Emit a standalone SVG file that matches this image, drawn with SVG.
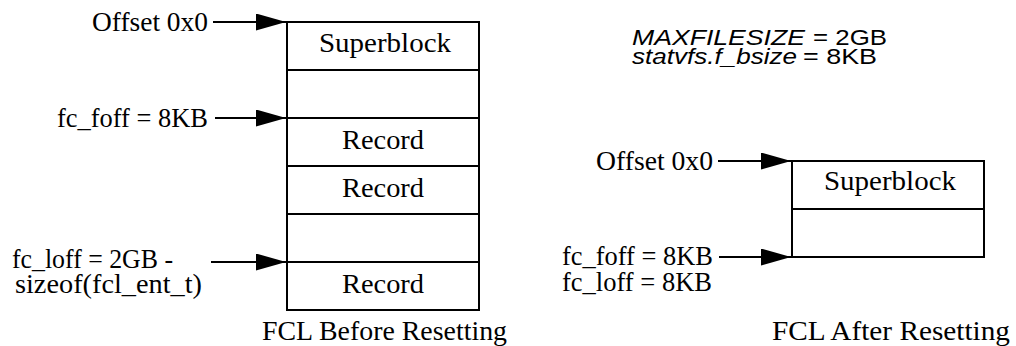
<svg xmlns="http://www.w3.org/2000/svg" width="1016" height="346" viewBox="0 0 1016 346">
  <style>
    .box { fill: #ffffff; stroke: #000000; stroke-width: 2; }
    .div { stroke: #000000; stroke-width: 2; fill: none; }
    .conn { stroke: #000000; stroke-width: 2; fill: none; marker-end: url(#arrow); }
    .serif { font-family: "Liberation Serif", "Times New Roman", serif; font-size: 27px; fill: #000000; }
    .sans { font-family: "Liberation Sans", Arial, sans-serif; font-size: 22.5px; fill: #000000; }
    .it { font-style: italic; }
  </style>
  <defs>
    <marker id="arrow" markerUnits="userSpaceOnUse" viewBox="0 0 30 17" markerWidth="30" markerHeight="17" refX="30" refY="8.5" orient="auto">
      <path d="M0,0 L30,8.5 L0,17 z" fill="#000000"/>
    </marker>
  </defs>

  <rect width="1016" height="346" fill="#ffffff"/>

  <g id="fcl-before">
    <rect class="box" x="287" y="22" width="192" height="288"/>
    <line class="div" x1="287" y1="70" x2="479" y2="70"/>
    <line class="div" x1="287" y1="118" x2="479" y2="118"/>
    <line class="div" x1="287" y1="166" x2="479" y2="166"/>
    <line class="div" x1="287" y1="214" x2="479" y2="214"/>
    <line class="div" x1="287" y1="262" x2="479" y2="262"/>
    <text class="serif" x="319" y="52" textLength="132" lengthAdjust="spacingAndGlyphs">Superblock</text>
    <text class="serif" x="342" y="149" textLength="82" lengthAdjust="spacingAndGlyphs">Record</text>
    <text class="serif" x="342" y="197" textLength="82" lengthAdjust="spacingAndGlyphs">Record</text>
    <text class="serif" x="342" y="293" textLength="82" lengthAdjust="spacingAndGlyphs">Record</text>
  </g>

  <g id="caption-before">
    <text class="serif" x="262" y="340" textLength="245" lengthAdjust="spacingAndGlyphs">FCL Before Resetting</text>
  </g>

  <g id="label-offset-before">
    <text class="serif" x="92" y="31" textLength="116" lengthAdjust="spacingAndGlyphs">Offset 0x0</text>
  </g>
  <g id="label-foff-before">
    <text class="serif" x="57" y="127" textLength="151" lengthAdjust="spacingAndGlyphs">fc_foff = 8KB</text>
  </g>
  <g id="label-loff-before">
    <text class="serif" x="12" y="268" textLength="161" lengthAdjust="spacingAndGlyphs">fc_loff = 2GB -</text>
    <text class="serif" x="15" y="293" textLength="187" lengthAdjust="spacingAndGlyphs">sizeof(fcl_ent_t)</text>
  </g>

  <g id="fcl-after">
    <rect class="box" x="792" y="161" width="192" height="96"/>
    <line class="div" x1="792" y1="209" x2="984" y2="209"/>
    <text class="serif" x="824" y="190" textLength="132" lengthAdjust="spacingAndGlyphs">Superblock</text>
  </g>

  <g id="caption-after">
    <text class="serif" x="772" y="340" textLength="238" lengthAdjust="spacingAndGlyphs">FCL After Resetting</text>
  </g>

  <g id="label-offset-after">
    <text class="serif" x="596" y="170" textLength="117" lengthAdjust="spacingAndGlyphs">Offset 0x0</text>
  </g>
  <g id="label-off-after">
    <text class="serif" x="562" y="265" textLength="151" lengthAdjust="spacingAndGlyphs">fc_foff = 8KB</text>
    <text class="serif" x="562" y="291" textLength="150" lengthAdjust="spacingAndGlyphs">fc_loff = 8KB</text>
  </g>

  <g id="params">
    <text class="sans it" x="632" y="45" textLength="173" lengthAdjust="spacingAndGlyphs">MAXFILESIZE</text>
    <text class="sans" x="813" y="45" textLength="74" lengthAdjust="spacingAndGlyphs">= 2GB</text>
    <text class="sans it" x="632" y="64" textLength="165" lengthAdjust="spacingAndGlyphs">statvfs.f_bsize</text>
    <text class="sans" x="803" y="64" textLength="74" lengthAdjust="spacingAndGlyphs">= 8KB</text>
  </g>

  <g id="connectors">
    <line class="conn" x1="213" y1="22" x2="286" y2="22"/>
    <line class="conn" x1="215" y1="118" x2="286" y2="118"/>
    <line class="conn" x1="211" y1="262" x2="286" y2="262"/>
    <line class="conn" x1="718" y1="161" x2="791" y2="161"/>
    <line class="conn" x1="719" y1="257" x2="791" y2="257"/>
  </g>
</svg>
